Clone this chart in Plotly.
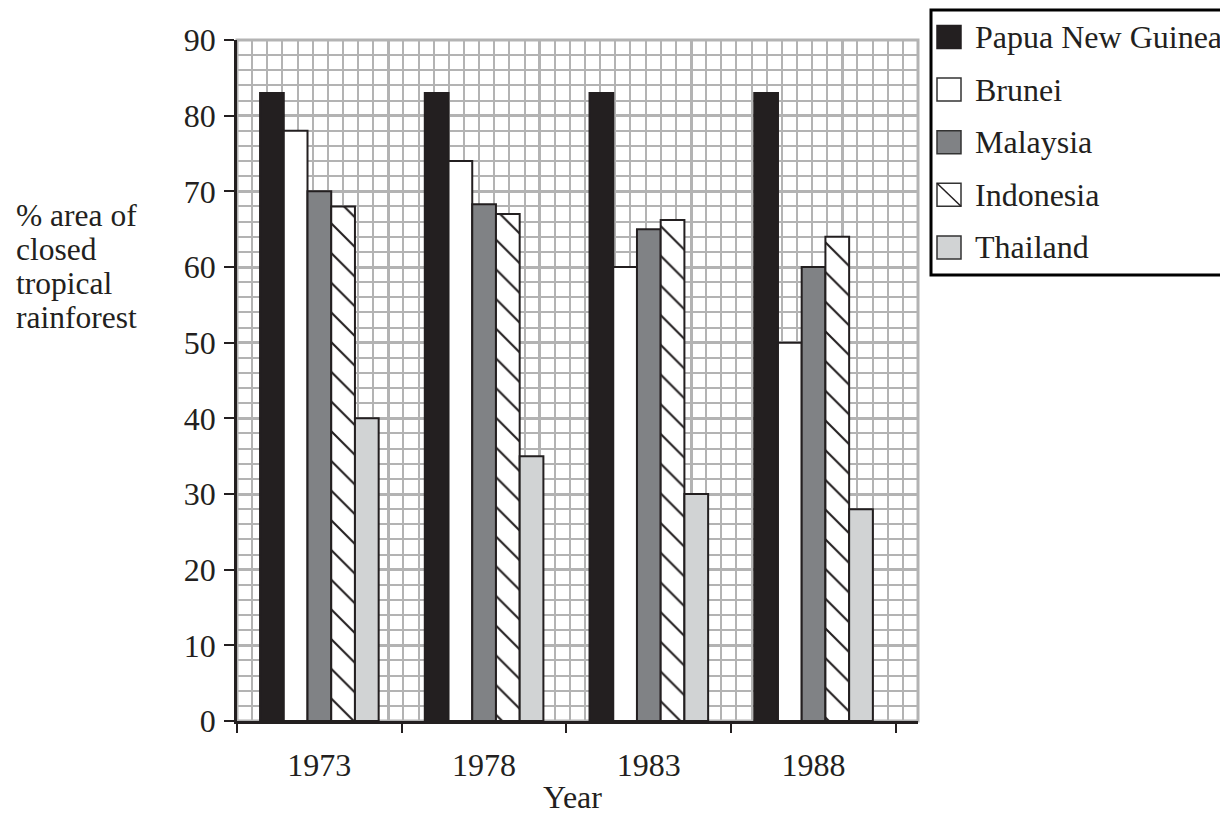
import plotly.graph_objects as go

# ---------------- data ----------------
years = ["1973", "1978", "1983", "1988"]
countries = ["Papua New Guinea", "Brunei", "Malaysia", "Indonesia", "Thailand"]
png = [83, 83, 83, 83]
brunei = [78, 74, 60, 50]
malaysia = [70, 68.3, 65, 60]
indonesia = [68, 67, 66.2, 64]
thailand = [40, 35, 30, 28]
y_ticks = [0, 10, 20, 30, 40, 50, 60, 70, 80, 90]
y_title_lines = ["% area of", "closed", "tropical", "rainforest"]

series = [png, brunei, malaysia, indonesia, thailand]

# ---------------- styles ----------------
FONT = "Liberation Serif"
INK = "#231f20"
GRID = "#b3b3b3"
fills = ["#231f20", "#ffffff", "#808285", "#ffffff", "#d1d3d4"]
hatch = [False, False, False, True, False]

OFF = 8  # page body margin
W, H = 1228 - OFF, 814 - OFF
# plot area in reference px
L, R, T, B = 237, 918, 40, 721
PW, PH = R - L, B - T

x_pos = list(range(len(years)))
x_lo = -0.5
x_hi = 3.634
cell = (x_hi - x_lo) / 45.0

fig = go.Figure()
for name, vals, fc, hz in zip(countries, series, fills, hatch):
    marker = dict(color=fc, line=dict(color=INK, width=2))
    if hz:
        marker["pattern"] = dict(shape="\\", size=21, solidity=0.1,
                                 fgcolor=INK, bgcolor="#ffffff", fillmode="replace")
    fig.add_trace(go.Bar(x=x_pos, y=vals, name=name, marker=marker,
                         showlegend=False))

# dummy traces for overlay axes
fig.add_trace(go.Scatter(x=[None], y=[None], xaxis="x2", showlegend=False, hoverinfo="skip"))
fig.add_trace(go.Scatter(x=[None], y=[None], xaxis="x3", showlegend=False, hoverinfo="skip"))

def px2x(px):
    return (px - L) / PW

def px2y(py):
    return (B - py) / PH

shapes = []
annotations = []

# plot border (grid colour)
shapes.append(dict(type="rect", xref="x domain", yref="y domain", x0=0, x1=1, y0=0, y1=1,
                   line=dict(color=GRID, width=3), layer="below"))

# custom legend
shapes.append(dict(type="rect", xref="paper", yref="paper",
                   x0=px2x(931), x1=px2x(1245), y0=px2y(275), y1=px2y(10),
                   line=dict(color="#000000", width=3), fillcolor="rgba(0,0,0,0)"))
for i, (name, fc, hz) in enumerate(zip(countries, fills, hatch)):
    cy = 37 + i * 52.6
    x0, x1 = px2x(937), px2x(961)
    y0, y1 = px2y(cy + 11.5), px2y(cy - 11.5)
    shapes.append(dict(type="rect", xref="paper", yref="paper", x0=x0, x1=x1, y0=y0, y1=y1,
                       fillcolor=fc, line=dict(color=INK if i == 0 else "#333333", width=1.5)))
    if hz:
        shapes.append(dict(type="line", xref="paper", yref="paper", x0=x0, x1=x1, y0=y1, y1=y0,
                           line=dict(color=INK, width=1.5)))
    annotations.append(dict(text=name, xref="paper", yref="paper", x=px2x(973), y=px2y(cy),
                            xanchor="left", yanchor="middle", showarrow=False,
                            font=dict(family=FONT, size=32, color=INK)))

# y title lines
for j, line in enumerate(y_title_lines):
    annotations.append(dict(text=line, xref="paper", yref="paper", x=px2x(14), y=px2y(215 + j * 34.3),
                            xanchor="left", yanchor="middle", showarrow=False,
                            font=dict(family=FONT, size=31.5, color=INK)))

# x title
annotations.append(dict(text="Year", xref="paper", yref="paper", x=px2x(572), y=px2y(797),
                        xanchor="center", yanchor="middle", showarrow=False,
                        font=dict(family=FONT, size=32, color=INK)))

fig.update_layout(
    width=W, height=H,
    margin=dict(l=L - OFF, r=W - (R - OFF), t=T - OFF, b=H - (B - OFF), pad=0),
    paper_bgcolor="white", plot_bgcolor="white",
    barmode="group", bargap=0.28, bargroupgap=0,
    showlegend=False,
    font=dict(family=FONT, size=32, color=INK),
    shapes=shapes, annotations=annotations,
    xaxis=dict(range=[x_lo, x_hi], tickmode="array", tickvals=x_pos, ticktext=years,
               ticks="", ticklabelstandoff=14, showgrid=False, zeroline=False,
               showline=True, linecolor=INK, linewidth=2.5,
               tickfont=dict(family=FONT, size=32, color=INK),
               minor=dict(tick0=x_lo, dtick=cell, showgrid=True, gridcolor=GRID, gridwidth=1.8, ticks="")),
    xaxis2=dict(range=[x_lo, x_hi], overlaying="x", anchor="y", tick0=x_lo, dtick=cell * 10,
                tickmode="linear", showgrid=True, gridcolor=GRID, gridwidth=3.2,
                showticklabels=False, ticks="", zeroline=False, showline=False),
    xaxis3=dict(range=[x_lo, x_hi], overlaying="x", anchor="y", tickmode="array",
                tickvals=[-0.5, 0.5, 1.5, 2.5, 3.5], ticks="outside", ticklen=11, tickwidth=2,
                tickcolor=INK, showticklabels=False, showgrid=False, zeroline=False, showline=False),
    yaxis=dict(range=[0, 90], tickmode="array", tickvals=y_ticks, ticks="outside", ticklen=10,
               tickwidth=2, tickcolor=INK, showline=True, linecolor=INK, linewidth=2.5,
               showgrid=True, gridcolor=GRID, gridwidth=3.2, zeroline=False,
               tickfont=dict(family=FONT, size=32, color=INK), ticklabelstandoff=2,
               minor=dict(dtick=2, showgrid=True, gridcolor=GRID, gridwidth=1.8, ticks="")),
)

fig.write_html("out.html")
